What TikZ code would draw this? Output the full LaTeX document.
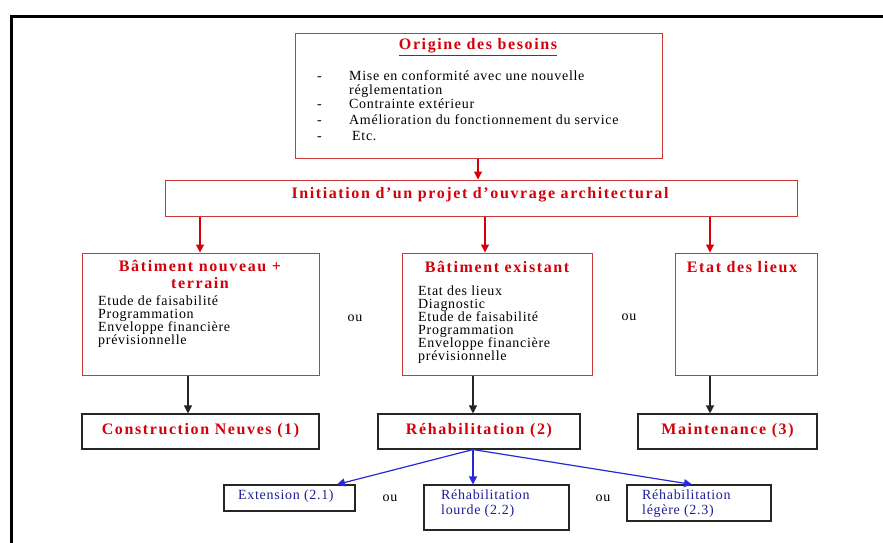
\documentclass[tikz,border=0pt]{standalone}
\usepackage{fontspec}
\setmainfont{Liberation Serif}
\newfontfamily\ttlface[LetterSpace=10]{Liberation Serif}
\newfontfamily\bodyface[LetterSpace=5]{Liberation Serif}
\newcommand\ttlfont{\ttlface\bfseries\fontsize{16}{17}\selectfont}
\newcommand\bodyfont{\bodyface\fontsize{14}{15}\selectfont}
\usetikzlibrary{arrows.meta}
\definecolor{tred}{RGB}{212,0,10}
\definecolor{bred}{RGB}{205,55,55}
\definecolor{lblue}{RGB}{40,40,215}
\definecolor{tblue}{RGB}{30,30,150}
\begin{document}
\begin{tikzpicture}[x=1pt,y=-1pt,
  redbox/.style={draw=bred,line width=1pt,inner sep=0pt},
  blkbox/.style={draw=black!85,line width=1.1pt,inner sep=0pt},
  ttl/.style={text=tred,font=\ttlfont,inner sep=0pt},
  body/.style={font=\bodyfont,inner sep=0pt,anchor=mid west},
  btxt/.style={font=\bodyfont,inner sep=0pt,anchor=mid west,text=tblue},
  ortxt/.style={font=\bodyfont,inner sep=0pt},
  redarr/.style={draw=tred,line width=1.1pt,-{Triangle[length=8pt,width=8pt]}},
  blkarr/.style={draw=black!85,line width=1.2pt,-{Triangle[length=8pt,width=8pt]}},
  bluarr/.style={draw=lblue,line width=1.2pt,-{Triangle[length=8pt,width=8pt]}}]
\useasboundingbox (0,0) rectangle (883,543);
\fill[white] (0,0) rectangle (883,543);
% outer frame (top and left only)
\coordinate (ftl) at (11,17);
\coordinate (ftr) at (883,17);
\coordinate (fbl) at (11,543);
\draw[line width=3pt] (fbl) -- (ftl) -- (ftr);

% boxes
\node[redbox,minimum width=367pt,minimum height=124pt] (orig) at (478.5,96) {};
\node[redbox,minimum width=632pt,minimum height=36pt] (init) at (481,198) {};
\node[redbox,minimum width=237pt,minimum height=122pt] (b1) at (200.5,314) {};
\node[redbox,minimum width=190pt,minimum height=122pt] (b2) at (497,314) {};
\node[redbox,minimum width=142pt,minimum height=122pt] (b3) at (746,314) {};
\node[blkbox,minimum width=237pt,minimum height=35pt] (c1) at (200.5,431.5) {};
\node[blkbox,minimum width=202pt,minimum height=35pt] (c2) at (479,431.5) {};
\node[blkbox,minimum width=179pt,minimum height=35pt] (c3) at (727.5,431.5) {};
\node[blkbox,minimum width=131pt,minimum height=26pt] (e1) at (289.5,498) {};
\node[blkbox,minimum width=145pt,minimum height=45pt] (e2) at (496.5,507.5) {};
\node[blkbox,minimum width=144pt,minimum height=36pt] (e3) at (699,503) {};

% titles
\node[ttl] (origt) at (478,47) {\underline{Origine des besoins}};
\node[ttl] (initt) at (480,195) {Initiation d’un projet d’ouvrage architectural};
\node[ttl,align=center] (b1t) at (200,274) {Bâtiment nouveau +\\terrain};
\node[ttl] (b2t) at (497,267) {Bâtiment existant};
\node[ttl] (b3t) at (742,267) {Etat des lieux};
\node[ttl] (c1t) at (200.5,431) {Construction Neuves (1)};
\node[ttl] (c2t) at (479,431) {Réhabilitation (2)};
\node[ttl] (c3t) at (727.5,431) {Maintenance (3)};

% origine list
\node[body] (d1) at (317,78) {-};
\node[body] (d2) at (317,106) {-};
\node[body] (d3) at (317,122) {-};
\node[body] (d4) at (317,138) {-};
\node[body] (o1) at (349,78) {Mise en conformité avec une nouvelle};
\node[body] (o2) at (349,92) {réglementation};
\node[body] (o3) at (349,106) {Contrainte extérieur};
\node[body] (o4) at (349,122) {Amélioration du fonctionnement du service};
\node[body] (o5) at (352,138) {Etc.};

% b1 list
\node[body] (p1) at (98,303) {Etude de faisabilité};
\node[body] (p2) at (98,316) {Programmation};
\node[body] (p3) at (98,329) {Enveloppe financière};
\node[body] (p4) at (98,342) {prévisionnelle};

% b2 list
\node[body] (q1) at (418,293) {Etat des lieux};
\node[body] (q2) at (418,306) {Diagnostic};
\node[body] (q3) at (418,319) {Etude de faisabilité};
\node[body] (q4) at (418,332) {Programmation};
\node[body] (q5) at (418,345) {Enveloppe financière};
\node[body] (q6) at (418,358) {prévisionnelle};

% ou
\node[ortxt] (ou1) at (355,318) {ou};
\node[ortxt] (ou2) at (629,317) {ou};
\node[ortxt] (ou3) at (390,498) {ou};
\node[ortxt] (ou4) at (603,498) {ou};

% lower blue texts
\node[btxt] (x1) at (238,497) {Extension (2.1)};
\node[btxt] (x2) at (441,497) {Réhabilitation};
\node[btxt] (x3) at (441,512) {lourde (2.2)};
\node[btxt] (x4) at (642,497) {Réhabilitation};
\node[btxt] (x5) at (642,512) {légère (2.3)};

% connector x positions
\coordinate (ka) at (478,0);
\coordinate (k1) at (200,0);
\coordinate (k2) at (485,0);
\coordinate (k3) at (710,0);
\coordinate (m1) at (188,0);
\coordinate (m2) at (473,0);
\coordinate (m3) at (710,0);
\coordinate (t1) at (337,0);
\coordinate (t3) at (692,0);

\draw[redarr] (orig.south -| ka) -- (init.north -| ka);
\draw[redarr] (init.south -| k1) -- (b1.north -| k1);
\draw[redarr] (init.south -| k2) -- (b2.north -| k2);
\draw[redarr] (init.south -| k3) -- (b3.north -| k3);
\draw[blkarr] (b1.south -| m1) -- (c1.north -| m1);
\draw[blkarr] (b2.south -| m2) -- (c2.north -| m2);
\draw[blkarr] (b3.south -| m3) -- (c3.north -| m3);
\draw[bluarr] (c2.south -| m2) -- (e1.north -| t1);
\draw[bluarr] (c2.south -| m2) -- (e2.north -| m2);
\draw[bluarr] (c2.south -| m2) -- (e3.north -| t3);
\end{tikzpicture}
\end{document}
